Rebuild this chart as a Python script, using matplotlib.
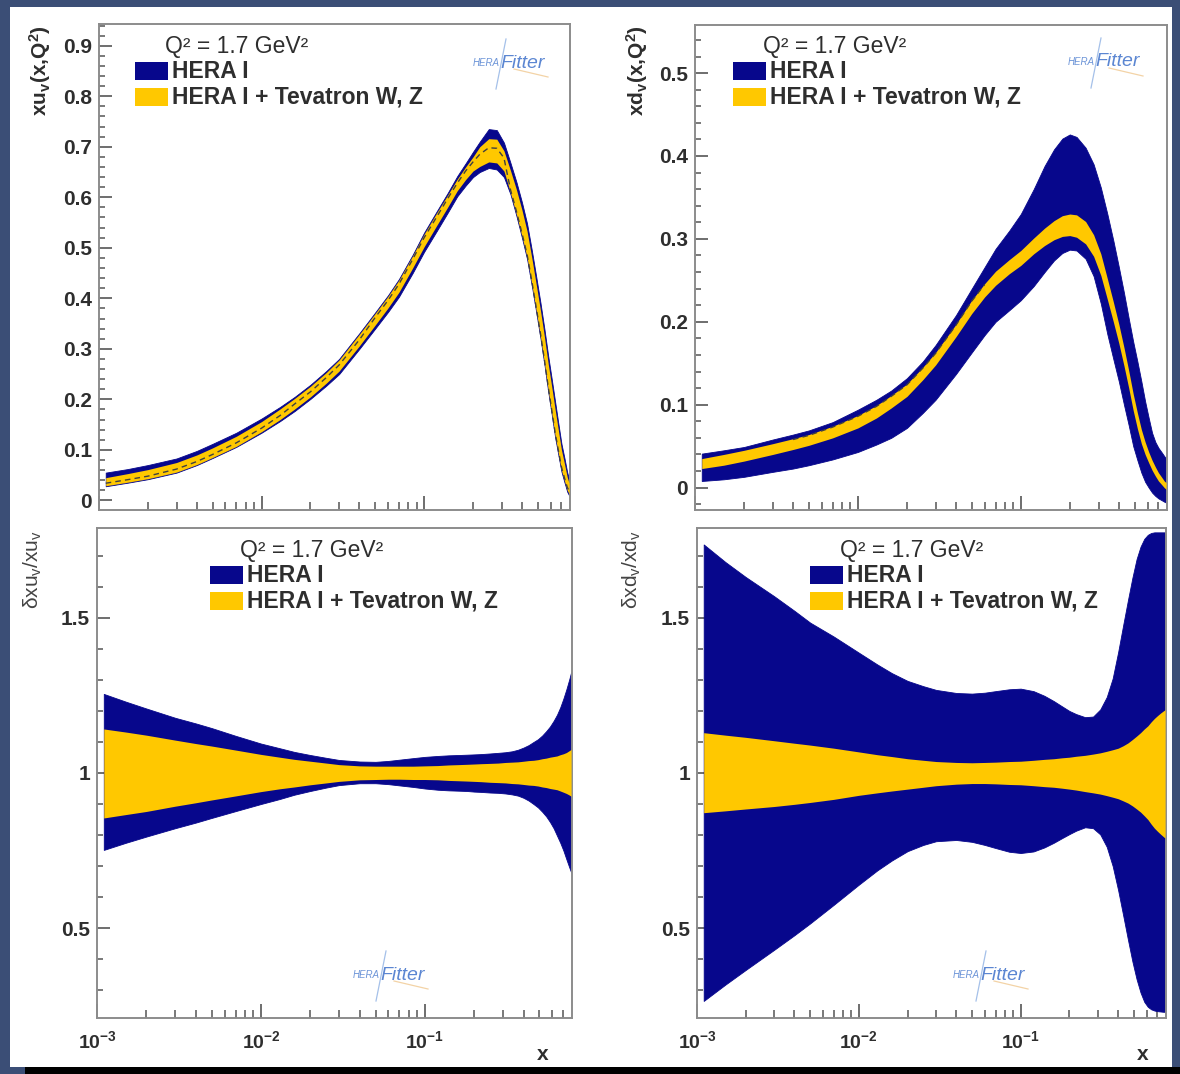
# -*- coding: utf-8 -*-
"""
valence PDFs at Q^2 = 1.7 GeV^2 (HERA I vs HERA I + Tevatron W, Z)
"""

import matplotlib
matplotlib.use('Agg')
import matplotlib.pyplot as plt
from matplotlib.patches import Rectangle
from matplotlib.lines import Line2D
from matplotlib.ticker import FixedLocator, LogLocator, MultipleLocator, \
    NullFormatter

plt.rcParams['font.family'] = ['Liberation Sans', 'DejaVu Sans']
plt.rcParams['mathtext.fontset'] = 'custom'
plt.rcParams['mathtext.rm'] = 'Liberation Sans'
plt.rcParams['mathtext.bf'] = 'Liberation Sans:bold'
plt.rcParams['mathtext.it'] = 'Liberation Sans:italic'

# ---- data ----
X_GRID = [0.0011, 0.0015, 0.002, 0.003, 0.004, 0.005, 0.007, 0.01, 0.013,
          0.016, 0.02, 0.025, 0.03, 0.04, 0.05, 0.06, 0.07, 0.085, 0.1,
          0.12, 0.14, 0.16, 0.18, 0.2, 0.22, 0.25, 0.28, 0.31, 0.34, 0.37,
          0.4, 0.43, 0.46, 0.49, 0.52, 0.55, 0.58, 0.61, 0.64, 0.67, 0.7,
          0.73, 0.76, 0.78]

# xu_v
XUV_HERA_LO = [0.028, 0.035, 0.042, 0.055, 0.070, 0.084, 0.106, 0.134,
               0.157, 0.177, 0.201, 0.227, 0.250, 0.300, 0.340, 0.373,
               0.403, 0.450, 0.492, 0.534, 0.570, 0.602, 0.623, 0.640,
               0.650, 0.658, 0.655, 0.640, 0.606, 0.563, 0.520, 0.478,
               0.425, 0.372, 0.321, 0.269, 0.216, 0.170, 0.125, 0.090,
               0.057, 0.036, 0.017, 0.010]
XUV_HERA_HI = [0.055, 0.062, 0.070, 0.083, 0.098, 0.112, 0.134, 0.162,
               0.185, 0.205, 0.229, 0.256, 0.280, 0.331, 0.372, 0.406,
               0.438, 0.486, 0.530, 0.573, 0.609, 0.642, 0.667, 0.690,
               0.710, 0.735, 0.733, 0.708, 0.668, 0.630, 0.590, 0.548,
               0.495, 0.442, 0.391, 0.339, 0.286, 0.240, 0.195, 0.152,
               0.112, 0.084, 0.055, 0.042]
XUV_TEV_LO = [0.029, 0.036, 0.043, 0.056, 0.071, 0.085, 0.107, 0.136,
              0.160, 0.181, 0.205, 0.232, 0.256, 0.306, 0.347, 0.381,
              0.412, 0.460, 0.502, 0.545, 0.581, 0.613, 0.635, 0.652,
              0.661, 0.670, 0.668, 0.652, 0.609, 0.566, 0.523, 0.481,
              0.428, 0.375, 0.324, 0.272, 0.219, 0.173, 0.128, 0.093,
              0.060, 0.039, 0.020, 0.013]
XUV_TEV_HI = [0.045, 0.053, 0.061, 0.075, 0.090, 0.104, 0.127, 0.156,
              0.181, 0.202, 0.226, 0.253, 0.278, 0.329, 0.370, 0.404,
              0.436, 0.484, 0.527, 0.570, 0.605, 0.636, 0.660, 0.680,
              0.700, 0.716, 0.715, 0.692, 0.653, 0.615, 0.575, 0.533,
              0.480, 0.427, 0.376, 0.324, 0.271, 0.225, 0.180, 0.139,
              0.100, 0.073, 0.046, 0.034]
XUV_DASH = [0.034, 0.041, 0.048, 0.062, 0.077, 0.091, 0.114, 0.143, 0.168,
            0.191, 0.215, 0.243, 0.268, 0.318, 0.362, 0.396, 0.428, 0.477,
            0.520, 0.562, 0.598, 0.628, 0.652, 0.670, 0.685, 0.698, 0.697,
            0.678, 0.615, 0.572, 0.529, 0.487, 0.434, 0.381, 0.330, 0.278,
            0.225, 0.179, 0.134, 0.099, 0.066, 0.045, 0.026, 0.019]

# xd_v
XDV_HERA_LO = [0.008, 0.010, 0.013, 0.019, 0.023, 0.027, 0.034, 0.043,
               0.052, 0.060, 0.072, 0.090, 0.106, 0.137, 0.163, 0.184,
               0.200, 0.214, 0.226, 0.243, 0.260, 0.274, 0.283, 0.287,
               0.286, 0.276, 0.255, 0.222, 0.185, 0.155, 0.128, 0.100,
               0.075, 0.050, 0.033, 0.018, 0.007, 0.000, -0.006, -0.010,
               -0.013, -0.015, -0.017, -0.018]
XDV_HERA_HI = [0.041, 0.045, 0.049, 0.058, 0.064, 0.069, 0.079, 0.094,
               0.106, 0.117, 0.132, 0.152, 0.172, 0.208, 0.240, 0.266,
               0.288, 0.310, 0.330, 0.360, 0.388, 0.408, 0.421, 0.426,
               0.423, 0.410, 0.390, 0.362, 0.330, 0.298, 0.266, 0.235,
               0.204, 0.176, 0.152, 0.128, 0.104, 0.084, 0.066, 0.055,
               0.048, 0.043, 0.038, 0.035]
XDV_TEV_LO = [0.023, 0.027, 0.032, 0.040, 0.046, 0.051, 0.060, 0.072,
              0.084, 0.096, 0.110, 0.130, 0.148, 0.182, 0.210, 0.230,
              0.244, 0.258, 0.268, 0.282, 0.292, 0.299, 0.303, 0.304,
              0.302, 0.294, 0.279, 0.256, 0.227, 0.200, 0.174, 0.147,
              0.120, 0.093, 0.071, 0.053, 0.040, 0.030, 0.021, 0.014,
              0.008, 0.004, 0.000, -0.002]
XDV_TEV_HI = [0.035, 0.040, 0.045, 0.053, 0.059, 0.064, 0.074, 0.087,
              0.099, 0.111, 0.125, 0.145, 0.163, 0.197, 0.226, 0.246,
              0.261, 0.275, 0.286, 0.301, 0.313, 0.322, 0.328, 0.330,
              0.329, 0.321, 0.305, 0.282, 0.252, 0.224, 0.197, 0.169,
              0.141, 0.113, 0.090, 0.070, 0.055, 0.043, 0.033, 0.025,
              0.018, 0.013, 0.008, 0.006]
XDV_DASH_X = [0.004, 0.005, 0.007, 0.01, 0.013, 0.016, 0.02, 0.025, 0.03,
              0.04, 0.05, 0.06]
XDV_DASH = [0.058, 0.063, 0.073, 0.086, 0.098, 0.110, 0.124, 0.144, 0.162,
            0.196, 0.225, 0.245]

# relative uncertainty of xu_v
RU_HERA_LO = [0.752, 0.775, 0.795, 0.822, 0.840, 0.855, 0.877, 0.900,
              0.916, 0.930, 0.942, 0.953, 0.961, 0.967, 0.967, 0.964,
              0.960, 0.955, 0.950, 0.946, 0.944, 0.943, 0.942, 0.940,
              0.939, 0.937, 0.936, 0.934, 0.931, 0.927, 0.920, 0.911,
              0.900, 0.889, 0.875, 0.860, 0.842, 0.822, 0.798, 0.775,
              0.750, 0.722, 0.696, 0.680]
RU_HERA_HI = [1.255, 1.230, 1.208, 1.178, 1.160, 1.145, 1.120, 1.095,
              1.080, 1.068, 1.058, 1.049, 1.042, 1.037, 1.036, 1.039,
              1.043, 1.048, 1.052, 1.055, 1.057, 1.058, 1.059, 1.060,
              1.061, 1.063, 1.065, 1.067, 1.070, 1.075, 1.082, 1.090,
              1.100, 1.109, 1.121, 1.135, 1.150, 1.168, 1.188, 1.212,
              1.240, 1.270, 1.302, 1.325]
RU_TEV_LO = [0.855, 0.866, 0.876, 0.893, 0.904, 0.913, 0.926, 0.940,
             0.949, 0.955, 0.962, 0.968, 0.973, 0.978, 0.979, 0.980,
             0.980, 0.979, 0.979, 0.978, 0.976, 0.975, 0.974, 0.973,
             0.972, 0.970, 0.969, 0.968, 0.966, 0.965, 0.963, 0.961,
             0.960, 0.958, 0.955, 0.953, 0.950, 0.948, 0.946, 0.942,
             0.938, 0.934, 0.929, 0.925]
RU_TEV_HI = [1.142, 1.132, 1.122, 1.106, 1.095, 1.087, 1.074, 1.060,
             1.051, 1.044, 1.038, 1.032, 1.027, 1.023, 1.022, 1.022,
             1.022, 1.022, 1.023, 1.024, 1.026, 1.027, 1.028, 1.029,
             1.030, 1.031, 1.032, 1.034, 1.035, 1.036, 1.038, 1.040,
             1.041, 1.043, 1.046, 1.048, 1.051, 1.053, 1.055, 1.059,
             1.062, 1.066, 1.072, 1.076]

# relative uncertainty of xd_v
RD_HERA_LO = [0.265, 0.318, 0.365, 0.430, 0.477, 0.515, 0.575, 0.640,
              0.686, 0.718, 0.748, 0.768, 0.780, 0.784, 0.778, 0.768,
              0.758, 0.746, 0.742, 0.747, 0.760, 0.775, 0.790, 0.803,
              0.814, 0.825, 0.822, 0.802, 0.762, 0.700, 0.622, 0.540,
              0.462, 0.392, 0.335, 0.292, 0.262, 0.246, 0.238, 0.234,
              0.232, 0.231, 0.230, 0.230]
RD_HERA_HI = [1.737, 1.680, 1.632, 1.570, 1.523, 1.485, 1.440, 1.388,
              1.350, 1.322, 1.297, 1.280, 1.268, 1.258, 1.256, 1.259,
              1.264, 1.270, 1.272, 1.264, 1.249, 1.232, 1.215, 1.200,
              1.190, 1.180, 1.182, 1.205, 1.245, 1.305, 1.390, 1.478,
              1.558, 1.630, 1.690, 1.730, 1.755, 1.768, 1.774, 1.776,
              1.776, 1.776, 1.776, 1.776]
RD_TEV_LO = [0.872, 0.878, 0.884, 0.892, 0.899, 0.905, 0.915, 0.928,
             0.936, 0.942, 0.948, 0.954, 0.959, 0.964, 0.966, 0.966,
             0.965, 0.963, 0.962, 0.959, 0.956, 0.954, 0.951, 0.948,
             0.945, 0.940, 0.936, 0.932, 0.927, 0.922, 0.917, 0.910,
             0.903, 0.894, 0.884, 0.874, 0.862, 0.850, 0.835, 0.822,
             0.812, 0.803, 0.795, 0.790]
RD_TEV_HI = [1.130, 1.122, 1.115, 1.104, 1.096, 1.090, 1.080, 1.068,
             1.059, 1.053, 1.046, 1.041, 1.037, 1.034, 1.033, 1.034,
             1.035, 1.037, 1.038, 1.041, 1.044, 1.046, 1.049, 1.051,
             1.054, 1.057, 1.061, 1.065, 1.070, 1.075, 1.080, 1.088,
             1.097, 1.108, 1.119, 1.130, 1.142, 1.152, 1.165, 1.176,
             1.185, 1.193, 1.200, 1.204]

XUV_YTICKS = [0, 0.1, 0.2, 0.3, 0.4, 0.5, 0.6, 0.7, 0.8, 0.9]
XUV_YLABELS = ['0', '0.1', '0.2', '0.3', '0.4', '0.5', '0.6', '0.7', '0.8',
               '0.9']
XDV_YTICKS = [0, 0.1, 0.2, 0.3, 0.4, 0.5]
XDV_YLABELS = ['0', '0.1', '0.2', '0.3', '0.4', '0.5']
RATIO_YTICKS = [0.5, 1, 1.5]
RATIO_YLABELS = ['0.5', '1', '1.5']
X_TICKS = [1e-3, 1e-2, 1e-1]
X_LABELS = [r'$\mathbf{10^{-3}}$', r'$\mathbf{10^{-2}}$',
            r'$\mathbf{10^{-1}}$']

LEGEND_TITLE = 'Q² = 1.7 GeV²'
LEGEND_NAMES = ['HERA I', 'HERA I + Tevatron W, Z']

# ---- style ----
W, H = 1180, 1074
BLUE = '#07078c'
YELLOW = '#ffc800'
TEXT_COL = '#2e2e2e'
FRAME_COL = '#8c8c8c'
TICK_COL = '#555555'


def fx(px):
    return px / W


def fy(py):
    return 1 - py / H


def draw_logo(fig, cx, cy):
    """small HERAFitter mark"""
    fig.add_artist(Line2D([fx(cx - 6), fx(cx - 16)], [fy(cy - 24), fy(cy + 26)],
                          color='#7fa6e0', lw=0.9, alpha=0.7))
    fig.add_artist(Line2D([fx(cx + 2), fx(cx + 36)], [fy(cy + 6), fy(cy + 14)],
                          color='#f0c890', lw=0.9, alpha=0.8))
    fig.text(fx(cx - 12), fy(cy), 'HERA', fontsize=7, style='italic',
             color='#6d95d8', ha='right', va='center')
    fig.text(fx(cx - 12), fy(cy), 'Fitter', fontsize=14, style='italic',
             color='#5b86d2', ha='left', va='center')


def draw_legend(fig, box_x, row_y):
    fig.text(fx(box_x + 30), fy(row_y - 24), LEGEND_TITLE, fontsize=16.5,
             color=TEXT_COL, ha='left', va='center')
    for i, (name, col) in enumerate(zip(LEGEND_NAMES, [BLUE, YELLOW])):
        yc = row_y + 26 * i
        fig.add_artist(Rectangle((fx(box_x), fy(yc + 9)), 33 / W, 18 / H,
                                 transform=fig.transFigure, color=col,
                                 lw=0))
        fig.text(fx(box_x + 37), fy(yc), name, fontsize=16.5,
                 fontweight='bold', color=TEXT_COL, ha='left', va='center')


def draw_panel(fig, rect, bands, ylim, yticks, ylabels, yminor,
               show_xlabels):
    left, top, right, bottom = rect
    ax = fig.add_axes([fx(left), fy(bottom), (right - left) / W,
                       (bottom - top) / H])
    hera_lo, hera_hi, tev_lo, tev_hi = bands
    ax.fill_between(X_GRID, hera_lo, hera_hi, color=BLUE, lw=0.6,
                    edgecolor=BLUE, zorder=2)
    ax.fill_between(X_GRID, tev_lo, tev_hi, color=YELLOW, lw=0, zorder=3)
    ax.set_xscale('log')
    ax.set_xlim(1e-3, 0.79)
    ax.set_ylim(*ylim)
    ax.xaxis.set_major_locator(FixedLocator(X_TICKS))
    ax.xaxis.set_minor_locator(LogLocator(base=10, subs=range(2, 10)))
    ax.xaxis.set_minor_formatter(NullFormatter())
    if show_xlabels:
        ax.set_xticklabels(X_LABELS)
    else:
        ax.set_xticklabels([])
    ax.set_yticks(yticks)
    ax.set_yticklabels(ylabels)
    ax.yaxis.set_minor_locator(MultipleLocator(yminor))
    ax.tick_params(axis='x', which='major', direction='in', length=10,
                   width=1.2, color=TICK_COL, pad=9, labelsize=14,
                   labelcolor=TEXT_COL)
    ax.tick_params(axis='x', which='minor', direction='in', length=5.5,
                   width=1.1, color=TICK_COL)
    ax.tick_params(axis='y', which='major', direction='in', length=9,
                   width=1.2, color=TICK_COL, pad=5, labelsize=15,
                   labelcolor=TEXT_COL)
    ax.tick_params(axis='y', which='minor', direction='in', length=4.5,
                   width=1.1, color=TICK_COL)
    for lab in ax.get_yticklabels():
        lab.set_fontweight('bold')
    for sp in ax.spines.values():
        sp.set_color(FRAME_COL)
        sp.set_linewidth(1.4)
    return ax


fig = plt.figure(figsize=(W / 100, H / 100), dpi=100, facecolor='#3b4e76')
fig.add_artist(Rectangle((fx(10), fy(1067)), 1162 / W, 1060 / H,
                         transform=fig.transFigure, color='white', lw=0,
                         zorder=-2))
fig.add_artist(Rectangle((fx(25), 0), 1155 / W, 7 / H,
                         transform=fig.transFigure, color='black', lw=0,
                         zorder=-2))

# top left: xu_v
ax_tl = draw_panel(fig, (99, 24, 570, 510),
                   (XUV_HERA_LO, XUV_HERA_HI, XUV_TEV_LO, XUV_TEV_HI),
                   (-0.019, 0.943), XUV_YTICKS, XUV_YLABELS, 0.02, False)
ax_tl.plot(X_GRID, XUV_DASH, color='#404040', lw=1.0, ls=(0, (4, 3)),
           zorder=4)

# top right: xd_v
ax_tr = draw_panel(fig, (695, 25, 1167, 510),
                   (XDV_HERA_LO, XDV_HERA_HI, XDV_TEV_LO, XDV_TEV_HI),
                   (-0.027, 0.558), XDV_YTICKS, XDV_YLABELS, 0.02, False)
ax_tr.plot(XDV_DASH_X, XDV_DASH, color='#404040', lw=1.0, ls=(0, (4, 3)),
           zorder=4)

# bottom left: relative uncertainty of xu_v
draw_panel(fig, (97, 528, 572, 1018),
           (RU_HERA_LO, RU_HERA_HI, RU_TEV_LO, RU_TEV_HI),
           (0.21, 1.79), RATIO_YTICKS, RATIO_YLABELS, 0.1, True)

# bottom right: relative uncertainty of xd_v
draw_panel(fig, (697, 528, 1166, 1018),
           (RD_HERA_LO, RD_HERA_HI, RD_TEV_LO, RD_TEV_HI),
           (0.21, 1.79), RATIO_YTICKS, RATIO_YLABELS, 0.1, True)

# axis titles
fig.text(fx(40), fy(25), r'xu$_\mathregular{v}$(x,Q$^\mathregular{2}$)',
         rotation=90, fontsize=15, fontweight='bold', color=TEXT_COL,
         ha='center', va='top')
fig.text(fx(637), fy(25), r'xd$_\mathregular{v}$(x,Q$^\mathregular{2}$)',
         rotation=90, fontsize=15, fontweight='bold', color=TEXT_COL,
         ha='center', va='top')
fig.text(fx(33), fy(530), r'δxu$_\mathregular{v}$/xu$_\mathregular{v}$',
         rotation=90, fontsize=15, color='#444444', ha='center', va='top')
fig.text(fx(632), fy(530), r'δxd$_\mathregular{v}$/xd$_\mathregular{v}$',
         rotation=90, fontsize=15, color='#444444', ha='center', va='top')
fig.text(fx(543), fy(1055), 'x', fontsize=15, fontweight='bold',
         color=TEXT_COL, ha='center', va='center')
fig.text(fx(1143), fy(1055), 'x', fontsize=15, fontweight='bold',
         color=TEXT_COL, ha='center', va='center')

draw_legend(fig, 135, 71)
draw_legend(fig, 733, 71)
draw_legend(fig, 210, 575)
draw_legend(fig, 810, 575)

draw_logo(fig, 512, 63)
draw_logo(fig, 1107, 62)
draw_logo(fig, 392, 975)
draw_logo(fig, 992, 975)

fig.savefig('out.png', dpi=100, facecolor=fig.get_facecolor())
